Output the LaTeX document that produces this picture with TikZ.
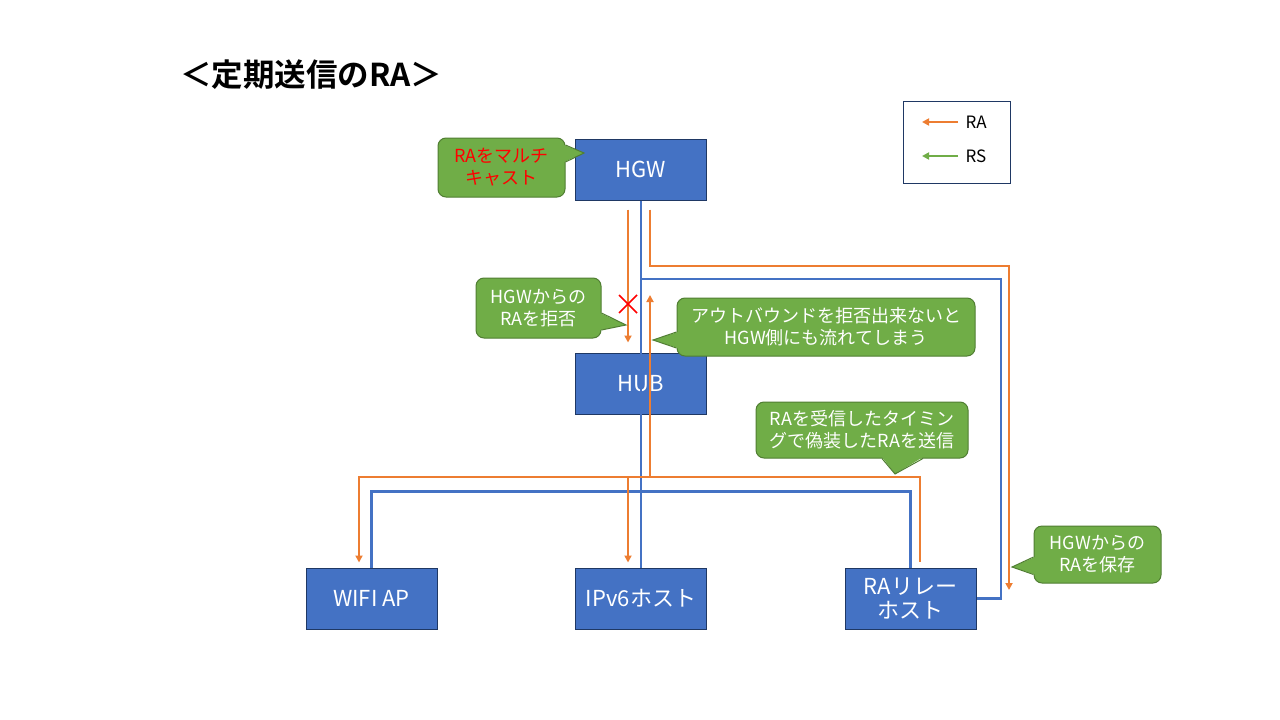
\documentclass[tikz,border=0pt]{standalone}
\usepackage{fontspec}
\setmainfont{Noto Sans CJK JP}[BoldFont={Noto Sans CJK JP Bold}]
\usetikzlibrary{arrows.meta}
\definecolor{boxfill}{HTML}{4472C4}
\definecolor{boxline}{HTML}{1F3864}
\definecolor{callfill}{HTML}{70AD47}
\definecolor{callline}{HTML}{507E32}
\definecolor{raorange}{HTML}{ED7D31}
\definecolor{rsgreen}{HTML}{70AD47}

\begin{document}
\begin{tikzpicture}[x=1pt,y=-1pt,
  box/.style={draw=boxline,fill=boxfill,line width=1pt,minimum width=131pt,minimum height=61pt,inner sep=0pt,text=white,align=center,font=\fontsize{22}{24}\selectfont},
  callbox/.style={draw=callline,fill=callfill,line width=1pt,rounded corners=8pt,inner sep=0pt,text=white,align=center,font=\fontsize{18}{22}\selectfont},
  bluewire/.style={draw=boxfill,line width=2.6pt},
  ra/.style={draw=raorange,line width=1.8pt,-{Triangle[width=7pt,length=7pt]}},
  rs/.style={draw=rsgreen,line width=1.8pt,-{Triangle[width=7pt,length=7pt]}}]
\useasboundingbox[fill=white] (0,0) rectangle (1280,720);
\node[font=\fontsize{31.5}{34}\selectfont\bfseries] (title) at (311,75) {＜定期送信のRA＞};
% boxes
\node[box] (hgw) at (641,169.5) {HGW};
\node[box] (hub) at (641,383.5) {HUB};
\node[box] (wifi) at (371.5,598.5) {WIFI AP};
\node[box] (ipv6) at (641,598.5) {IPv6ホスト};
\node[box] (relay) at (910.5,598.5) {RAリレー\\ホスト};
% legend
\node[draw=boxline,line width=1pt,minimum width=107pt,minimum height=82pt] (legend) at (957,142) {};
\node[anchor=west,font=\fontsize{17}{20}\selectfont] (lra) at (962,122) {RA};
\node[anchor=west,font=\fontsize{17}{20}\selectfont] (lrs) at (962,156) {RS};
\draw[ra] ([xshift=-4pt]lra.west) -- ++(-36,0);
\draw[rs] ([xshift=-4pt]lrs.west) -- ++(-36,0);
% blue wires
\draw[bluewire] (hgw.south) -- (ipv6.north);
\coordinate (tap) at (641,279);
\draw[bluewire] (tap) -- (1001,279) |- (relay.east);
\draw[bluewire] (wifi.north) -- ++(0,-76) -| (relay.north);
% RA flows
\draw[ra] ([xshift=-13pt,yshift=-9pt]hgw.south) -- ([xshift=-13pt,yshift=10pt]hub.north);
\draw[ra] ([xshift=9pt,yshift=-9pt]hgw.south) |- (1009,266) -- (1009,590);
\draw[ra] ([xshift=9.5pt,yshift=6pt]relay.north) |- (359,477) -- ([xshift=-12.5pt,yshift=5pt]wifi.north);
\draw[ra] (628,477) -- ([xshift=-13pt,yshift=5pt]ipv6.north);
\draw[ra] (650,477) -- (650,295);
\draw[red,line width=1.5pt] (619,295) -- (637,313) (619,313) -- (637,295);
% callouts
\node[callbox,text=red,minimum width=127pt,minimum height=59pt] (c1) at (501.5,167.5) {RAをマルチ\\キャスト};
\fill[callfill] ([xshift=-1.5pt,yshift=22.5pt]c1.east) -- (584,153) -- ([xshift=-1.5pt,yshift=5.5pt]c1.east) -- cycle;
\draw[callline,line width=1pt] ([yshift=22.5pt]c1.east) -- (584,153) -- ([yshift=5.5pt]c1.east);
\node[callbox,minimum width=125pt,minimum height=60pt] (c2) at (538.5,308) {HGWからの\\RAを拒否};
\fill[callfill] ([xshift=-1.5pt,yshift=-5pt]c2.east) -- (626,325) -- ([xshift=-1.5pt,yshift=-22pt]c2.east) -- cycle;
\draw[callline,line width=1pt] ([yshift=-5pt]c2.east) -- (626,325) -- ([yshift=-22pt]c2.east);
\node[callbox,minimum width=298pt,minimum height=58pt] (c3) at (826,327) {アウトバウンドを拒否出来ないと\\HGW側にも流れてしまう};
\fill[callfill] ([xshift=1.5pt,yshift=-5pt]c3.west) -- (653,340) -- ([xshift=1.5pt,yshift=-21pt]c3.west) -- cycle;
\draw[callline,line width=1pt] ([yshift=-5pt]c3.west) -- (653,340) -- ([yshift=-21pt]c3.west);
\node[callbox,minimum width=212pt,minimum height=56pt] (c4) at (862,430) {RAを受信したタイミン\\グで偽装したRAを送信};
\fill[callfill] ([xshift=20pt,yshift=1.5pt]c4.south) -- (895,474) -- ([xshift=61pt,yshift=1.5pt]c4.south) -- cycle;
\draw[callline,line width=1pt] ([xshift=20pt]c4.south) -- (895,474) -- ([xshift=61pt]c4.south);
\node[callbox,minimum width=127pt,minimum height=57pt] (c5) at (1097.5,554.5) {HGWからの\\RAを保存};
\fill[callfill] ([xshift=1.5pt,yshift=-2.5pt]c5.west) -- (1012,567) -- ([xshift=1.5pt,yshift=-20pt]c5.west) -- cycle;
\draw[callline,line width=1pt] ([yshift=-2.5pt]c5.west) -- (1012,567) -- ([yshift=-20pt]c5.west);
\end{tikzpicture}
\end{document}
